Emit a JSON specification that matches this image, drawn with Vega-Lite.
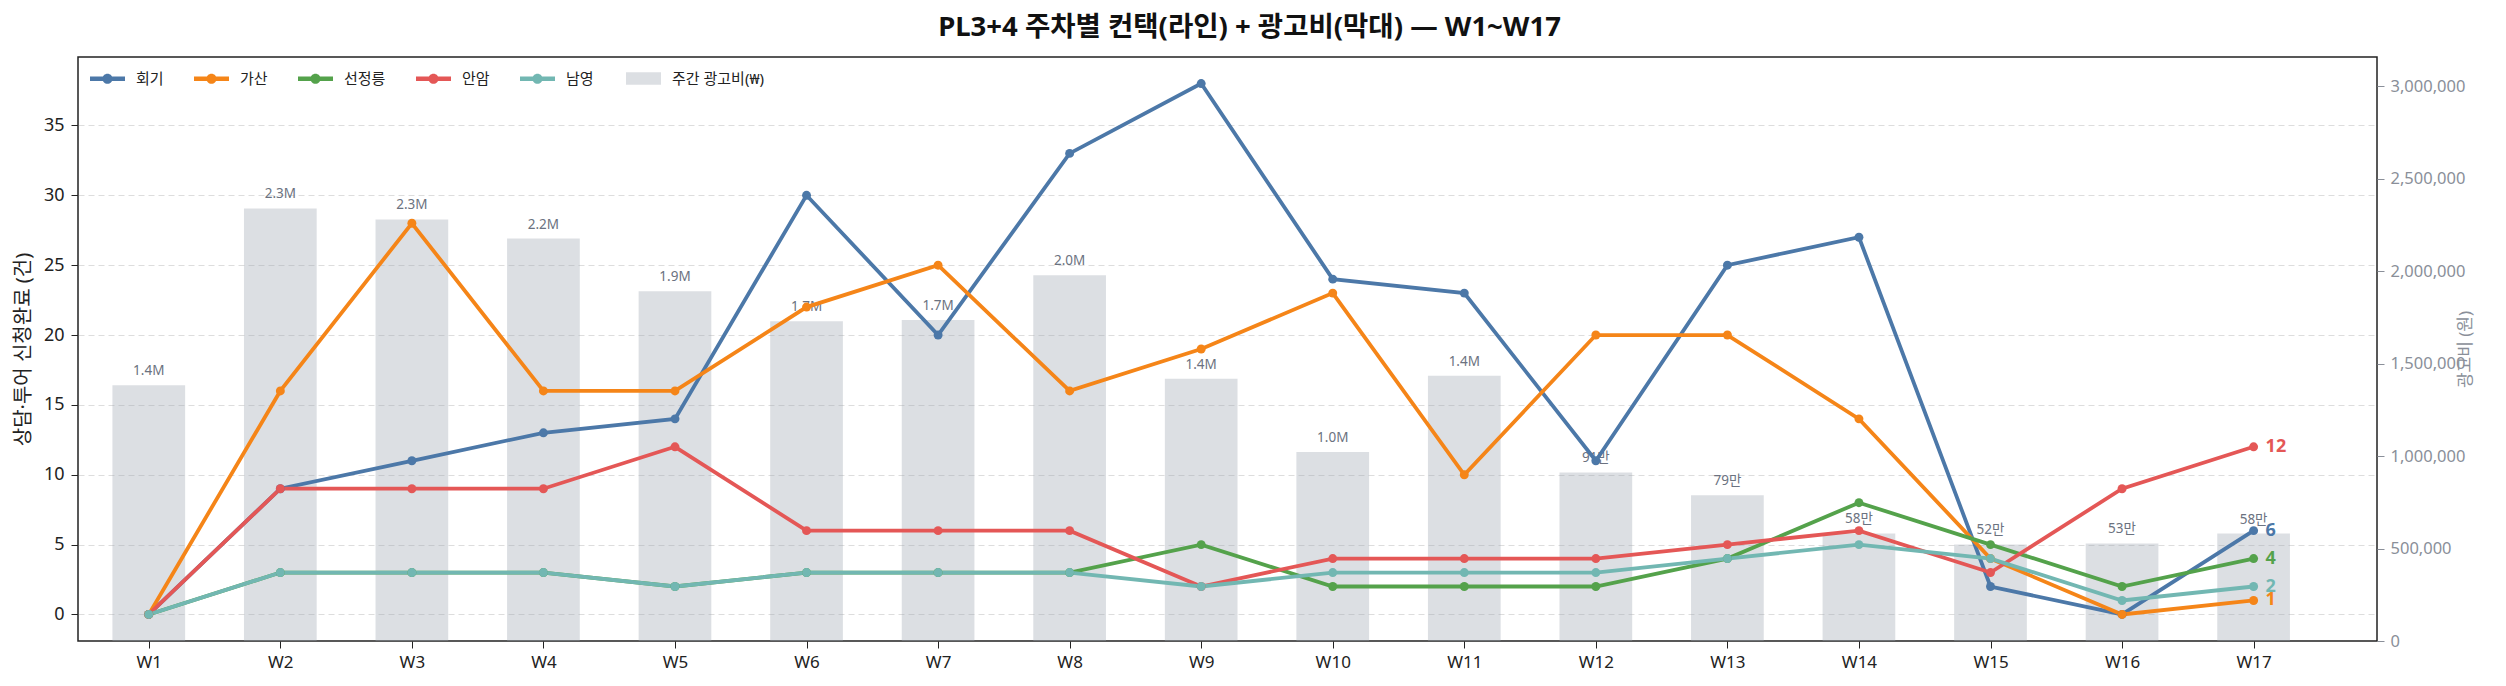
{
  "$schema": "https://vega.github.io/schema/vega-lite/v6.json",
  "width": 2299,
  "height": 584,
  "autosize": {"type": "none"},
  "padding": {"left": 78, "top": 57, "right": 129, "bottom": 45},
  "title": {
    "text": "PL3+4 주차별 컨택(라인) + 광고비(막대) — W1~W17",
    "fontSize": 27.5,
    "fontWeight": "bold",
    "color": "#111111",
    "offset": 16,
    "dx": 22,
    "anchor": "middle"
  },
  "datasets": {
    "spend": [
      {"idx": 1, "week": "W1", "spend": 1383000, "label": "1.4M"},
      {"idx": 2, "week": "W2", "spend": 2340000, "label": "2.3M"},
      {"idx": 3, "week": "W3", "spend": 2280000, "label": "2.3M"},
      {"idx": 4, "week": "W4", "spend": 2177000, "label": "2.2M"},
      {"idx": 5, "week": "W5", "spend": 1892000, "label": "1.9M"},
      {"idx": 6, "week": "W6", "spend": 1729000, "label": "1.7M"},
      {"idx": 7, "week": "W7", "spend": 1737000, "label": "1.7M"},
      {"idx": 8, "week": "W8", "spend": 1978000, "label": "2.0M"},
      {"idx": 9, "week": "W9", "spend": 1418000, "label": "1.4M"},
      {"idx": 10, "week": "W10", "spend": 1022000, "label": "1.0M"},
      {"idx": 11, "week": "W11", "spend": 1435000, "label": "1.4M"},
      {"idx": 12, "week": "W12", "spend": 912000, "label": "91만"},
      {"idx": 13, "week": "W13", "spend": 789000, "label": "79만"},
      {"idx": 14, "week": "W14", "spend": 582000, "label": "58만"},
      {"idx": 15, "week": "W15", "spend": 522000, "label": "52만"},
      {"idx": 16, "week": "W16", "spend": 528000, "label": "53만"},
      {"idx": 17, "week": "W17", "spend": 581000, "label": "58만"}
    ],
    "leads": [
      {"idx": 1, "branch": "회기", "count": 0},
      {"idx": 2, "branch": "회기", "count": 9},
      {"idx": 3, "branch": "회기", "count": 11},
      {"idx": 4, "branch": "회기", "count": 13},
      {"idx": 5, "branch": "회기", "count": 14},
      {"idx": 6, "branch": "회기", "count": 30},
      {"idx": 7, "branch": "회기", "count": 20},
      {"idx": 8, "branch": "회기", "count": 33},
      {"idx": 9, "branch": "회기", "count": 38},
      {"idx": 10, "branch": "회기", "count": 24},
      {"idx": 11, "branch": "회기", "count": 23},
      {"idx": 12, "branch": "회기", "count": 11},
      {"idx": 13, "branch": "회기", "count": 25},
      {"idx": 14, "branch": "회기", "count": 27},
      {"idx": 15, "branch": "회기", "count": 2},
      {"idx": 16, "branch": "회기", "count": 0},
      {"idx": 17, "branch": "회기", "count": 6},
      {"idx": 1, "branch": "가산", "count": 0},
      {"idx": 2, "branch": "가산", "count": 16},
      {"idx": 3, "branch": "가산", "count": 28},
      {"idx": 4, "branch": "가산", "count": 16},
      {"idx": 5, "branch": "가산", "count": 16},
      {"idx": 6, "branch": "가산", "count": 22},
      {"idx": 7, "branch": "가산", "count": 25},
      {"idx": 8, "branch": "가산", "count": 16},
      {"idx": 9, "branch": "가산", "count": 19},
      {"idx": 10, "branch": "가산", "count": 23},
      {"idx": 11, "branch": "가산", "count": 10},
      {"idx": 12, "branch": "가산", "count": 20},
      {"idx": 13, "branch": "가산", "count": 20},
      {"idx": 14, "branch": "가산", "count": 14},
      {"idx": 15, "branch": "가산", "count": 4},
      {"idx": 16, "branch": "가산", "count": 0},
      {"idx": 17, "branch": "가산", "count": 1},
      {"idx": 1, "branch": "선정릉", "count": 0},
      {"idx": 2, "branch": "선정릉", "count": 3},
      {"idx": 3, "branch": "선정릉", "count": 3},
      {"idx": 4, "branch": "선정릉", "count": 3},
      {"idx": 5, "branch": "선정릉", "count": 2},
      {"idx": 6, "branch": "선정릉", "count": 3},
      {"idx": 7, "branch": "선정릉", "count": 3},
      {"idx": 8, "branch": "선정릉", "count": 3},
      {"idx": 9, "branch": "선정릉", "count": 5},
      {"idx": 10, "branch": "선정릉", "count": 2},
      {"idx": 11, "branch": "선정릉", "count": 2},
      {"idx": 12, "branch": "선정릉", "count": 2},
      {"idx": 13, "branch": "선정릉", "count": 4},
      {"idx": 14, "branch": "선정릉", "count": 8},
      {"idx": 15, "branch": "선정릉", "count": 5},
      {"idx": 16, "branch": "선정릉", "count": 2},
      {"idx": 17, "branch": "선정릉", "count": 4},
      {"idx": 1, "branch": "안암", "count": 0},
      {"idx": 2, "branch": "안암", "count": 9},
      {"idx": 3, "branch": "안암", "count": 9},
      {"idx": 4, "branch": "안암", "count": 9},
      {"idx": 5, "branch": "안암", "count": 12},
      {"idx": 6, "branch": "안암", "count": 6},
      {"idx": 7, "branch": "안암", "count": 6},
      {"idx": 8, "branch": "안암", "count": 6},
      {"idx": 9, "branch": "안암", "count": 2},
      {"idx": 10, "branch": "안암", "count": 4},
      {"idx": 11, "branch": "안암", "count": 4},
      {"idx": 12, "branch": "안암", "count": 4},
      {"idx": 13, "branch": "안암", "count": 5},
      {"idx": 14, "branch": "안암", "count": 6},
      {"idx": 15, "branch": "안암", "count": 3},
      {"idx": 16, "branch": "안암", "count": 9},
      {"idx": 17, "branch": "안암", "count": 12},
      {"idx": 1, "branch": "남영", "count": 0},
      {"idx": 2, "branch": "남영", "count": 3},
      {"idx": 3, "branch": "남영", "count": 3},
      {"idx": 4, "branch": "남영", "count": 3},
      {"idx": 5, "branch": "남영", "count": 2},
      {"idx": 6, "branch": "남영", "count": 3},
      {"idx": 7, "branch": "남영", "count": 3},
      {"idx": 8, "branch": "남영", "count": 3},
      {"idx": 9, "branch": "남영", "count": 2},
      {"idx": 10, "branch": "남영", "count": 3},
      {"idx": 11, "branch": "남영", "count": 3},
      {"idx": 12, "branch": "남영", "count": 3},
      {"idx": 13, "branch": "남영", "count": 4},
      {"idx": 14, "branch": "남영", "count": 5},
      {"idx": 15, "branch": "남영", "count": 4},
      {"idx": 16, "branch": "남영", "count": 1},
      {"idx": 17, "branch": "남영", "count": 2}
    ]
  },
  "encoding": {
    "x": {
      "field": "idx",
      "type": "quantitative",
      "scale": {"domain": [0.5, 17.9], "nice": false, "zero": false},
      "axis": {
        "values": [1, 2, 3, 4, 5, 6, 7, 8, 9, 10, 11, 12, 13, 14, 15, 16, 17],
        "labelExpr": "'W' + datum.value",
        "title": null,
        "grid": false,
        "domain": false,
        "tickColor": "#222222",
        "tickSize": 7,
        "labelFontSize": 17,
        "labelPadding": 6,
        "labelColor": "#222222"
      }
    }
  },
  "layer": [
    {
      "data": {"name": "spend"},
      "encoding": {
        "y": {
          "field": "spend",
          "type": "quantitative",
          "scale": {"domain": [0, 3159000], "nice": false},
          "axis": {
            "orient": "right",
            "values": [0, 500000, 1000000, 1500000, 2000000, 2500000, 3000000],
            "format": ",.0f",
            "grid": false,
            "domain": false,
            "tickColor": "#8a8f99",
            "tickSize": 7,
            "labelColor": "#8a8f99",
            "labelFontSize": 16.5,
            "labelPadding": 6,
            "title": "광고비 (원)",
            "titleColor": "#8a8f99",
            "titleFontSize": 17,
            "titleFontWeight": "normal",
            "titleAngle": 270,
            "titlePadding": 10
          }
        }
      },
      "layer": [
        {
          "mark": {"type": "bar", "size": 72.7, "opacity": 0.35},
          "encoding": {
            "fill": {
              "datum": "주간 광고비(₩)",
              "scale": {"range": ["#9ca3af"]},
              "legend": {
                "orient": "none",
                "legendX": 548,
                "legendY": 4,
                "title": null,
                "padding": 0,
                "symbolType": "M-1,-0.36L1,-0.36L1,0.36L-1,0.36Z",
                "symbolSize": 1225,
                "symbolOpacity": 0.35,
                "symbolStrokeWidth": 0,
                "labelFontSize": 15,
                "labelOffset": 11,
                "labelColor": "#222222"
              }
            }
          }
        },
        {
          "mark": {"type": "text", "dy": -10, "baseline": "alphabetic", "fontSize": 13.5, "color": "#6b7280"},
          "encoding": {"text": {"field": "label"}}
        }
      ]
    },
    {
      "data": {"name": "leads"},
      "encoding": {
        "y": {
          "field": "count",
          "type": "quantitative",
          "scale": {"domain": [-1.9, 39.9], "nice": false, "zero": false},
          "axis": {
            "orient": "left",
            "values": [0, 5, 10, 15, 20, 25, 30, 35],
            "grid": true,
            "gridColor": "#dddddd",
            "gridDash": [6, 4],
            "gridWidth": 1,
            "domain": false,
            "tickColor": "#222222",
            "tickSize": 7,
            "labelColor": "#222222",
            "labelFontSize": 18,
            "labelPadding": 7,
            "title": "상담·투어 신청완료 (건)",
            "titleColor": "#222222",
            "titleFontSize": 20,
            "titleFontWeight": "normal",
            "titlePadding": 10
          }
        },
        "color": {
          "field": "branch",
          "type": "nominal",
          "scale": {
            "domain": ["회기", "가산", "선정릉", "안암", "남영"],
            "range": ["#4c78a8", "#f58518", "#54a24b", "#e45756", "#72b7b2"]
          },
          "legend": {
            "orient": "none",
            "legendX": 12,
            "legendY": 4,
            "direction": "horizontal",
            "title": null,
            "padding": 0,
            "symbolType": "M-1,-0.13L1,-0.13L1,0.13L-1,0.13Z M-0.29,0A0.29,0.29,0,1,1,0.29,0A0.29,0.29,0,1,1,-0.29,0Z",
            "symbolSize": 1225,
            "symbolStrokeWidth": 0,
            "symbolOpacity": 1,
            "labelFontSize": 15,
            "labelOffset": 11,
            "columnPadding": 30,
            "labelColor": "#222222"
          }
        }
      },
      "layer": [
        {"mark": {"type": "line", "strokeWidth": 3.8, "point": {"filled": true, "size": 80}}},
        {
          "transform": [{"filter": "datum.idx == 17"}],
          "mark": {"type": "text", "align": "left", "baseline": "middle", "dx": 12, "fontSize": 18, "fontWeight": "bold"},
          "encoding": {"text": {"field": "count", "type": "quantitative"}}
        }
      ]
    }
  ],
  "resolve": {"scale": {"y": "independent"}},
  "config": {
    "font": "Noto Sans, Noto Sans CJK KR",
    "view": {"stroke": "#222222", "strokeWidth": 1.5}
  }
}
